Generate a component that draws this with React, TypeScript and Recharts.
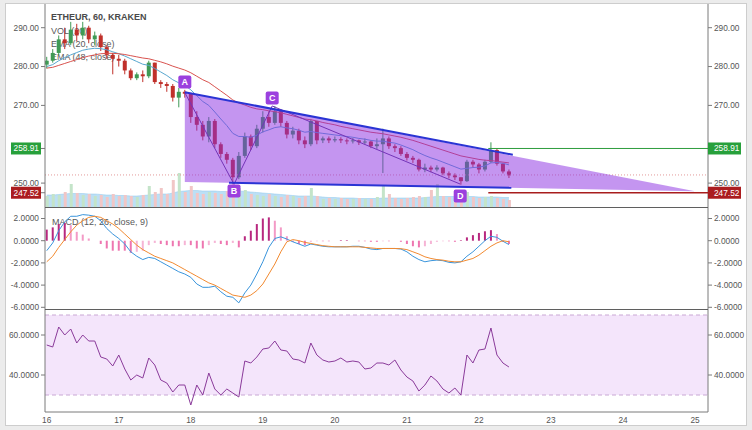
import React from 'react';
import {
  ComposedChart,
  Bar,
  Line,
  Area,
  XAxis,
  YAxis,
  Cell,
  ReferenceLine,
  ReferenceArea,
  ReferenceDot,
} from 'recharts';

// 2-hour buckets, starting on the 16th at 00:00
const FIRST_DAY = 16;
const STEP = 1 / 12;
const FIRST_OPEN = 280.5;

const closes = [
  281.5, 283.5, 287, 286, 289.5, 288, 290, 287, 288, 285,
  283, 282, 281.5, 279, 277, 278, 277.5, 281, 276, 275.5,
  275, 272, 273.5, 273, 267, 265, 262, 266, 260, 257.5,
  256, 251.5, 257, 262, 259.5, 264, 267, 265.5, 268.5, 265.5,
  262.5, 263.5, 261, 260, 266, 261, 261.5, 261, 261.3, 261,
  260.8, 261, 260.5, 260.7, 259.5, 260, 261.5, 259.5, 259, 257.5,
  256.5, 256, 253.5, 254, 253.5, 254, 252.5, 252, 251.5, 250.5,
  255.5, 254.8, 253.5, 255.5, 258.5, 255, 253, 252,
];
const highs = [
  282.5, 284.5, 288, 290, 291.5, 291, 291.5, 290.5, 289, 288.5,
  285.5, 283.5, 283, 282, 279.5, 278.5, 279, 281.5, 281, 276.5,
  276, 275.5, 274.5, 274, 273, 268.5, 266, 267, 266.5, 260.5,
  258, 256.5, 258, 263, 262.5, 265, 268.5, 268.5, 269.8, 269,
  266, 264.5, 264, 262, 266.5, 266, 262, 262, 262, 261.8,
  261.5, 261.6, 261.2, 261.5, 261, 261.5, 264, 262, 260, 259.5,
  258, 257, 256.3, 255, 254.5, 254.6, 254.2, 253, 252.5, 251.5,
  256, 256, 255.2, 256, 260.5, 258.8, 255.2, 253.5,
];
const lows = [
  279.5, 281, 283, 284.5, 285.5, 286.5, 287, 286, 285.5, 284,
  282, 278, 280, 278, 276.5, 276.5, 276, 277, 275.5, 274.5,
  273.5, 271, 269.5, 272, 265.5, 263.5, 261, 260.5, 259, 256.5,
  255, 249.8, 251, 256.5, 258.5, 259, 263, 264.5, 265, 264.5,
  261.5, 261.5, 260, 259, 259.5, 260, 260.3, 260.3, 260.5, 260.3,
  260, 260.2, 259.8, 260, 259, 258.8, 252.6, 258.8, 258, 257,
  255.8, 255.2, 253, 252.8, 252.8, 253, 252, 251.2, 250.8, 249.6,
  250.3, 254, 252.5, 253, 255.2, 254.5, 252.5, 251.3,
];
const ema20 = [
  280, 280.5, 281.5, 282.3, 283, 283.6, 284.2, 284.5, 284.7, 284.6,
  284.3, 283.8, 283.3, 282.7, 282, 281.3, 280.6, 280.3, 279.5, 278.6,
  277.7, 276.6, 275.8, 275.2, 274, 272.5, 271, 270, 268.3, 266.5,
  264.8, 262.8, 262, 262, 261.8, 262.3, 263.2, 263.7, 264.3, 264.5,
  264.2, 264, 263.6, 263.1, 263.3, 263, 262.8, 262.6, 262.4, 262.2,
  262, 261.8, 261.5, 261.3, 261, 260.8, 260.8, 260.5, 260.3, 259.8,
  259.2, 258.6, 257.8, 257.1, 256.5, 256, 255.4, 254.8, 254.2, 253.6,
  253.8, 254, 254.1, 254.4, 255.2, 255.3, 255.1, 254.7,
];
const ema48 = [
  279.6, 279.8, 280.3, 280.8, 281.3, 281.8, 282.3, 282.7, 283, 283.3,
  283.4, 283.4, 283.3, 283.1, 282.8, 282.5, 282.2, 282, 281.6, 281.2,
  280.7, 280.1, 279.6, 279.1, 278.4, 277.5, 276.6, 275.9, 274.8, 273.7,
  272.6, 271.4, 270.6, 270.1, 269.5, 269.1, 268.9, 268.6, 268.4, 268.1,
  267.7, 267.3, 266.9, 266.5, 266.3, 266, 265.6, 265.3, 265, 264.6,
  264.3, 264, 263.7, 263.4, 263.1, 262.9, 262.7, 262.4, 262.1, 261.8,
  261.4, 261, 260.5, 260, 259.5, 259, 258.5, 258, 257.5, 257,
  256.7, 256.4, 256.1, 255.9, 255.8, 255.6, 255.4, 255.2,
];
// volume, in the same units as its hidden axis
const volumes = [
  12, 14, 13, 16, 24, 15, 13, 14, 12, 13,
  11, 14, 12, 13, 12, 11, 13, 22, 16, 20,
  14, 28, 35, 16, 22, 15, 14, 16, 15, 14,
  17, 24, 20, 18, 14, 13, 12, 14, 12, 11,
  13, 12, 10, 12, 20, 12, 9, 10, 9, 10,
  9, 9, 10, 9, 9, 11, 22, 14, 10, 9,
  10, 11, 12, 11, 18, 24, 12, 11, 10, 12,
  16, 11, 10, 11, 12, 10, 9, 8,
];
const volumeMa = [
  13, 13, 13.5, 14, 14.5, 14.5, 14.5, 14, 14, 13.5,
  13, 13, 12.5, 12.5, 12, 12, 12.5, 13, 13.5, 14,
  14, 15, 16.5, 17, 17.5, 17.5, 17, 17, 17, 16.5,
  16.5, 17, 17, 16.5, 16, 15.5, 15, 14.5, 14, 13.5,
  13, 12.5, 12, 12, 12, 11.5, 11, 10.5, 10.5, 10,
  10, 10, 9.5, 9.5, 9.5, 9.5, 10, 10, 10, 10,
  10, 10, 10, 10.5, 11, 11.5, 11.5, 11.5, 11.5, 11.5,
  11.5, 11.5, 11, 11, 11, 11, 10.5, 10.5,
];
const macd = [
  -0.9, -0.2, 0.9, 1.7, 2.2, 2.2, 2.35, 2.3, 2.2, 1.8,
  1.1, 0.6, 0.2, -0.3, -1.0, -1.4, -1.7, -1.5, -1.6, -1.9,
  -2.2, -2.5, -2.8, -3.0, -3.3, -3.9, -4.2, -4.2, -4.1, -4.6,
  -5.0, -5.1, -5.6, -4.7, -4.0, -3.0, -1.9, -0.6, 0.2, 0.35,
  0.15, -0.1, -0.3, -0.5, -0.3, -0.4, -0.5, -0.55, -0.55, -0.55,
  -0.55, -0.5, -0.5, -0.6, -0.75, -0.8, -0.7, -0.7, -0.7, -0.75,
  -1.0, -1.4, -1.7, -1.9, -1.8, -1.75, -1.8, -1.95, -2.0, -1.9,
  -1.4, -1.0, -0.5, 0.0, 0.4, 0.3, -0.05, -0.35,
];
const signal = [
  -1.9, -1.4, -0.6, 0.1, 0.8, 1.4, 1.8, 2.1, 2.2, 2.1,
  1.8, 1.5, 1.1, 0.6, 0.1, -0.4, -0.8, -1.1, -1.4, -1.6,
  -1.8, -2.0, -2.3, -2.6, -2.9, -3.2, -3.5, -3.8, -4.0, -4.3,
  -4.6, -4.9, -5.0, -5.1, -4.9, -4.5, -3.9, -3.0, -2.1, -1.0,
  -0.1, 0.1, 0.0, -0.15, -0.25, -0.35, -0.45, -0.5, -0.55, -0.55,
  -0.55, -0.55, -0.55, -0.6, -0.65, -0.7, -0.7, -0.7, -0.7, -0.72,
  -0.8, -1.0, -1.2, -1.45, -1.6, -1.7, -1.75, -1.85, -1.9, -1.9,
  -1.75, -1.6, -1.3, -0.9, -0.5, -0.2, 0.0, -0.1,
];
const histogram = [
  1.0, 1.2, 1.5, 1.6, 1.4, 0.8, 0.55, 0.2, 0.0, -0.3,
  -0.7, -0.9, -0.9, -0.9, -1.1, -1.0, -0.9, -0.4, -0.2, -0.3,
  -0.4, -0.5, -0.5, -0.4, -0.4, -0.7, -0.7, -0.4, -0.2, -0.3,
  -0.4, -0.2, -0.6, 0.4, 0.9, 1.5, 2.0, 2.1, 1.8, 1.2,
  0.4, -0.1, -0.3, -0.4, -0.1, -0.05, -0.05, -0.05, 0.0, 0.05,
  0.05, 0.0, -0.05, -0.05, -0.1, -0.1, -0.05, -0.05, 0.0, -0.1,
  -0.3, -0.5, -0.6, -0.5, -0.3, -0.1, -0.05, -0.05, -0.1, 0.05,
  0.3, 0.5, 0.7, 0.85, 0.95, 0.6, -0.1, -0.3,
];
const rsi = [
  55, 54, 64, 60, 63, 56, 60, 57, 57, 49,
  48, 44.5, 50, 43, 37.5, 40, 38.5, 48.5, 45, 37.5,
  36, 31.5, 35, 35, 25, 35, 30, 41, 33, 30,
  33, 31, 29, 47, 46, 49, 53, 53.5, 57, 52.5,
  52, 48, 47.5, 46, 56, 50, 47.5, 46.5, 47, 48.5,
  46.5, 47, 46.5, 43, 43.5, 46, 46, 45, 47.5, 42.5,
  39, 37, 32, 35, 39.5, 37, 33, 31, 33.5, 30,
  50, 46, 52.5, 53, 63.5, 50, 46, 44,
];

const dayTicks = [16, 17, 18, 19, 20, 21, 22, 23, 24, 25];
const resistance = 258.91;
const support = 247.52;
const lastPrice = 252.1;
const priceTicks = [support, 250, resistance, 270, 280, 290];
const macdTicks = [-6, -4, -2, 0, 2];
const rsiTicks = [40, 60];

// triangle pattern drawn on the chart
const triangleEdges = [
  { t: 17.917, band: [250.3, 273.4] },
  { t: 25.0, band: [247.9, 247.9] },
];
const patternPoints = [
  { name: 'A', t: 17.917, price: 273.3, tagPrice: 276.0 },
  { name: 'B', t: 18.6, price: 249.7, tagPrice: 247.95 },
  { name: 'C', t: 19.13, price: 269.85, tagPrice: 271.9 },
  { name: 'D', t: 21.74, price: 249.75, tagPrice: 246.7 },
];
const levelStart = 22.13;

const X_DOMAIN: [number, number] = [15.976, 25.18];
const PRICE_DOMAIN: [number, number] = [243.59, 296.1];
const MACD_DOMAIN: [number, number] = [-6.243, 2.946];
const RSI_DOMAIN: [number, number] = [21.5, 72.5];

const FONT = "'Liberation Sans', Arial, sans-serif";
const AXIS = '#7a7a7a';
const TEXT = '#555';
const UP = '#3f9a55';
const DOWN = '#c0302a';

const mainRows = closes.map((close, i) => ({
  t: FIRST_DAY + i * STEP,
  open: i === 0 ? FIRST_OPEN : closes[i - 1],
  high: highs[i],
  low: lows[i],
  close,
  ema20: ema20[i],
  ema48: ema48[i],
  vol: volumes[i],
  volMa: volumeMa[i],
}));

const indicatorRows = macd.map((m, i) => ({
  t: FIRST_DAY + i * STEP,
  macd: m,
  signal: signal[i],
  hist: histogram[i],
  rsi: rsi[i],
}));

const Candle = (props: any) => {
  const { x, y, width, height, payload } = props;
  if (!payload || payload.open == null || y == null) return null;
  const top = Math.min(y, y + height);
  const h = Math.abs(height);
  const { open, close, high, low } = payload;
  const toY = (v: number) => (high === low ? top : top + ((high - v) / (high - low)) * h);
  const color = close >= open ? UP : DOWN;
  const cx = x + width / 2;
  const bodyTop = toY(Math.max(open, close));
  const bodyBottom = toY(Math.min(open, close));
  return (
    <g>
      <line x1={cx} x2={cx} y1={top} y2={top + h} stroke={color} strokeWidth={1} />
      <rect x={x} y={bodyTop} width={width} height={Math.max(1, bodyBottom - bodyTop)} fill={color} />
    </g>
  );
};

const axisTick = (digits: number, side: 'left' | 'right') => (props: any) => {
  const { x, y, payload } = props;
  const v = payload.value;
  const box = v === resistance ? '#27a03b' : v === support ? '#ab1c1f' : null;
  return (
    <g>
      {box && (
        <rect
          x={side === 'left' ? x - 28 : x - 6}
          y={y - 6}
          width={side === 'left' ? 30 : 33}
          height={12}
          fill={box}
        />
      )}
      <text
        x={x}
        y={y}
        dy="0.35em"
        textAnchor={side === 'left' ? 'end' : 'start'}
        fontSize={8.3}
        fontFamily={FONT}
        fill={box ? '#fff' : TEXT}
      >
        {v.toFixed(digits)}
      </text>
    </g>
  );
};

const PatternTag = ({ cx, cy, name }: any) => (
  <g>
    <rect x={cx - 6.5} y={cy - 6.5} width={13} height={13} rx={2} fill="#9b40de" />
    <text x={cx} y={cy} dy="0.36em" textAnchor="middle" fontSize={9} fontWeight="bold" fontFamily={FONT} fill="#fff">
      {name}
    </text>
  </g>
);

const histColor = (v: number, i: number) => {
  const prev = i > 0 ? histogram[i - 1] : v;
  if (v >= 0) return v >= prev ? '#b8287f' : '#f39ac6';
  return v <= prev ? '#ee76b0' : '#f6b4d5';
};

const yAxes = (domain: [number, number], ticks: number[], digits: number) => [
  <YAxis
    key="l"
    yAxisId="left"
    orientation="left"
    width={45}
    type="number"
    domain={domain}
    ticks={ticks}
    interval={0}
    allowDataOverflow
    tickSize={4}
    tickMargin={2}
    axisLine={{ stroke: AXIS }}
    tickLine={{ stroke: AXIS }}
    tick={axisTick(digits, 'left')}
  />,
  <YAxis
    key="r"
    yAxisId="right"
    orientation="right"
    width={44}
    type="number"
    domain={domain}
    ticks={ticks}
    interval={0}
    allowDataOverflow
    tickSize={4}
    tickMargin={2}
    axisLine={{ stroke: AXIS }}
    tickLine={{ stroke: AXIS }}
    tick={axisTick(digits, 'right')}
  />,
];

const legendStyle: React.CSSProperties = {
  position: 'absolute',
  left: 51,
  fontSize: 9,
  lineHeight: '10px',
  color: '#5a5a5a',
  fontFamily: FONT,
  whiteSpace: 'nowrap',
};

const abs = (top: number): React.CSSProperties => ({ position: 'absolute', left: 0, top });

export default function App() {
  return (
    <div style={{ position: 'absolute', left: 0, top: 0, width: 752, height: 430, background: '#ececec', overflow: 'hidden' }}>
      <div style={{ position: 'absolute', left: 5, top: 3, width: 742, height: 423, background: '#fff', border: '1px solid #cdcdcd', boxSizing: 'border-box' }} />

      <div style={{ ...legendStyle, top: 12, fontWeight: 'bold', color: '#4a4a4a' }}>ETHEUR, 60, KRAKEN</div>
      <div style={{ ...legendStyle, top: 26 }}>VOL (20)</div>
      <div style={{ ...legendStyle, top: 39 }}>EMA (20, close)</div>
      <div style={{ ...legendStyle, top: 52 }}>EMA (48, close)</div>
      <div style={{ ...legendStyle, top: 217, left: 52 }}>MACD (12, 26, close, 9)</div>
      <div style={{ ...legendStyle, top: 318, left: 52 }}>RSI (14, close)</div>

      {/* price panel */}
      <div style={abs(4)}>
        <ComposedChart width={752} height={204} data={mainRows} margin={{ top: 0, right: 0, bottom: 0, left: 0 }}>
          <XAxis dataKey="t" type="number" domain={X_DOMAIN} hide allowDataOverflow />
          <XAxis xAxisId="v" dataKey="t" type="number" domain={X_DOMAIN} hide allowDataOverflow />
          {yAxes(PRICE_DOMAIN, priceTicks, 2)}
          <YAxis yAxisId="vol" hide domain={[0, 204]} />
          <ReferenceLine yAxisId="left" y={lastPrice} stroke="#e39a9a" strokeDasharray="1 2" />
          <Bar xAxisId="v" yAxisId="vol" dataKey="vol" barSize={3} isAnimationActive={false}>
            {mainRows.map((r, i) => (
              <Cell key={i} fill={r.close >= r.open ? '#c4e4c9' : '#f1c6c6'} />
            ))}
          </Bar>
          <Area
            yAxisId="vol"
            dataKey="volMa"
            type="monotone"
            fill="#a6d4f1"
            fillOpacity={0.75}
            stroke="#8cc6ea"
            strokeWidth={0.5}
            isAnimationActive={false}
          />
          <Line yAxisId="left" dataKey="ema20" stroke="#58a7cf" strokeWidth={1} dot={false} isAnimationActive={false} />
          <Line yAxisId="left" dataKey="ema48" stroke="#d9534f" strokeWidth={1} dot={false} isAnimationActive={false} />
          <Bar
            yAxisId="left"
            dataKey={(r: any) => [r.low, r.high]}
            barSize={4}
            shape={Candle}
            isAnimationActive={false}
          />
        </ComposedChart>
      </div>

      {/* triangle pattern overlay */}
      <div style={abs(4)}>
        <ComposedChart width={752} height={204} data={triangleEdges} margin={{ top: 0, right: 44, bottom: 0, left: 45 }}>
          <XAxis dataKey="t" type="number" domain={X_DOMAIN} hide allowDataOverflow />
          <YAxis type="number" domain={PRICE_DOMAIN} hide allowDataOverflow />
          <Area dataKey="band" type="linear" fill="#8a2be2" fillOpacity={0.5} stroke="none" isAnimationActive={false} />
          {patternPoints.slice(1).map((p, i) => (
            <ReferenceLine
              key={p.name}
              segment={[
                { x: patternPoints[i].t, y: patternPoints[i].price },
                { x: p.t, y: p.price },
              ]}
              stroke="#7434b8"
              strokeWidth={1}
              ifOverflow="visible"
            />
          ))}
          <ReferenceLine segment={[{ x: 17.917, y: 273.4 }, { x: 22.47, y: 257.3 }]} stroke="#2a34d4" strokeWidth={2} ifOverflow="visible" />
          <ReferenceLine segment={[{ x: 18.53, y: 250.1 }, { x: 22.45, y: 248.8 }]} stroke="#2a34d4" strokeWidth={2} ifOverflow="visible" />
          <ReferenceLine segment={[{ x: levelStart, y: resistance }, { x: X_DOMAIN[1], y: resistance }]} stroke="#2e9d3e" strokeWidth={1} ifOverflow="visible" />
          <ReferenceLine segment={[{ x: levelStart, y: support }, { x: X_DOMAIN[1], y: support }]} stroke="#a81d1d" strokeWidth={1.5} ifOverflow="visible" />
          {patternPoints.map((p) => (
            <ReferenceDot
              key={p.name}
              x={p.t}
              y={p.tagPrice}
              r={6}
              ifOverflow="visible"
              shape={(props: any) => <PatternTag {...props} name={p.name} />}
            />
          ))}
        </ComposedChart>
      </div>

      <div style={{ position: 'absolute', left: 45, top: 207, width: 663, height: 1, background: '#5f5f5f' }} />

      {/* MACD panel, a few extra pixels below the plot keep the -6 label whole */}
      <div style={abs(208)}>
        <ComposedChart width={752} height={106} data={indicatorRows} margin={{ top: 0, right: 0, bottom: 4, left: 0 }}>
          <XAxis dataKey="t" type="number" domain={X_DOMAIN} hide allowDataOverflow />
          {yAxes(MACD_DOMAIN, macdTicks, 4)}
          <Bar yAxisId="left" dataKey="hist" barSize={2} isAnimationActive={false}>
            {histogram.map((v, i) => (
              <Cell key={i} fill={histColor(v, i)} />
            ))}
          </Bar>
          <Line yAxisId="left" dataKey="macd" stroke="#3a95dc" strokeWidth={1} dot={false} isAnimationActive={false} />
          <Line yAxisId="left" dataKey="signal" stroke="#f28a30" strokeWidth={1} dot={false} isAnimationActive={false} />
        </ComposedChart>
      </div>

      <div style={{ position: 'absolute', left: 45, top: 309, width: 663, height: 1, background: '#5f5f5f' }} />

      {/* RSI panel */}
      <div style={abs(310)}>
        <ComposedChart width={752} height={120} data={indicatorRows} margin={{ top: 0, right: 0, bottom: 0, left: 0 }}>
          <XAxis
            dataKey="t"
            type="number"
            domain={X_DOMAIN}
            allowDataOverflow
            ticks={dayTicks}
            interval={0}
            height={18}
            tickLine={false}
            tickSize={3}
            tickMargin={2}
            axisLine={{ stroke: AXIS }}
            tick={{ fill: TEXT, fontSize: 8.3, fontFamily: FONT }}
          />
          {yAxes(RSI_DOMAIN, rsiTicks, 4)}
          <ReferenceArea yAxisId="left" y1={30} y2={70} fill="#f4e5fb" fillOpacity={1} stroke="none" />
          <ReferenceLine yAxisId="left" y={70} stroke="#c9a8d4" strokeDasharray="4 3" />
          <ReferenceLine yAxisId="left" y={30} stroke="#c9a8d4" strokeDasharray="4 3" />
          <Line yAxisId="left" dataKey="rsi" stroke="#8a3a9a" strokeWidth={1} dot={false} isAnimationActive={false} />
        </ComposedChart>
      </div>
    </div>
  );
}
